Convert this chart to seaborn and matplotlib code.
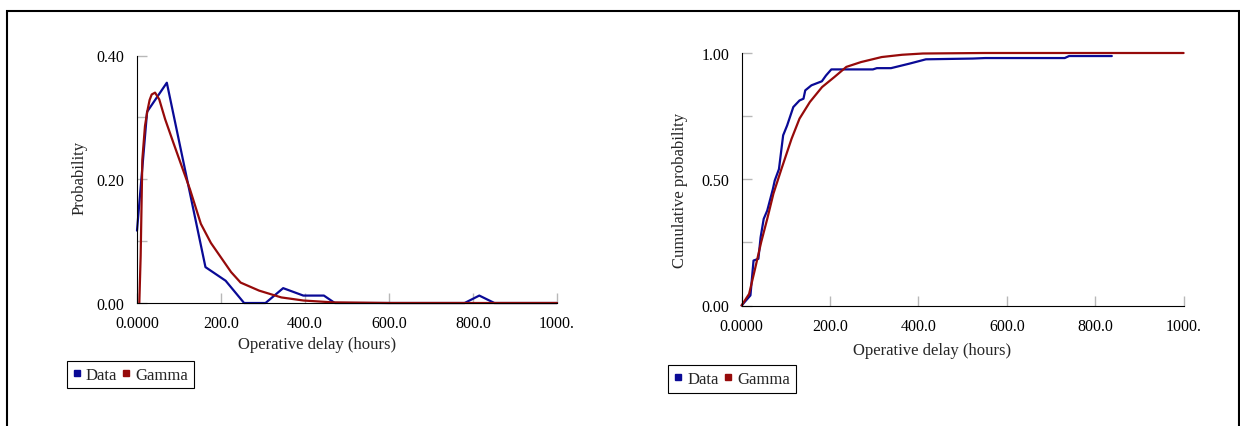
import numpy as np
import pandas as pd
import matplotlib
matplotlib.use("Agg")
import matplotlib.pyplot as plt
from matplotlib.lines import Line2D
from matplotlib.ticker import FixedLocator
import seaborn as sns

# Probability per delay class (observed vs fitted gamma)
pdf_data_x = [0, 24, 71, 163, 211, 255, 306, 348, 396, 445, 471, 780, 815, 851, 1000]
pdf_data_y = [0.117, 0.309, 0.356, 0.058, 0.036, 0.0, 0.0, 0.024, 0.012, 0.012, 0.0, 0.0, 0.012, 0.0, 0.0]

pdf_gamma_x = [5.5, 8.7, 12.7, 19, 24.6, 30, 35, 43, 53, 67, 86.6, 106.5, 126, 152, 176,
               202.6, 224, 246.7, 290.8, 343.7, 396.6, 467, 600, 800, 1000]
pdf_gamma_y = [0.0, 0.076, 0.232, 0.286, 0.310, 0.328, 0.337, 0.340, 0.329, 0.297, 0.259,
               0.221, 0.184, 0.128, 0.097, 0.071, 0.050, 0.033, 0.020, 0.009, 0.004, 0.001,
               0.0, 0.0, 0.0]

# Cumulative probability (empirical vs fitted gamma)
cdf_data_x = [0, 20, 27, 38, 43, 50, 58, 70.6, 75, 84.5, 94, 103, 117, 131, 140, 144,
              158, 181.6, 191, 203, 232, 297, 306, 338, 380, 417, 523, 551, 731, 741, 837.6]
cdf_data_y = [0.0, 0.04, 0.178, 0.185, 0.27, 0.343, 0.376, 0.46, 0.495, 0.54, 0.674, 0.713,
              0.786, 0.812, 0.819, 0.852, 0.872, 0.888, 0.911, 0.935, 0.935, 0.935, 0.94,
              0.94, 0.958, 0.975, 0.978, 0.98, 0.98, 0.988, 0.988]

cdf_gamma_x = [0, 17, 30.4, 44.3, 58, 72, 90, 113, 131, 154.5, 182, 210, 237, 270,
               317, 363, 410, 550, 700, 850, 1000]
cdf_gamma_y = [0.0, 0.046, 0.145, 0.251, 0.343, 0.443, 0.54, 0.66, 0.74, 0.806, 0.865,
               0.905, 0.945, 0.964, 0.984, 0.993, 0.998, 1.0, 1.0, 1.0, 1.0]

x_ticks = [0, 200, 400, 600, 800, 1000]
x_tick_labels = ["0.0000", "200.0", "400.0", "600.0", "800.0", "1000."]
series_names = ["Data", "Gamma"]

BLUE = "#0a0a96"
RED = "#960a0a"
palette = {"Data": BLUE, "Gamma": RED}

sns.set_style("white")
plt.rcParams["font.family"] = ["Liberation Serif", "DejaVu Serif"]
plt.rcParams["axes.linewidth"] = 0.8

W, H = 1240, 427
fig = plt.figure(figsize=(W / 100, H / 100), dpi=100)


def frame(px_left, px_right, px_top, px_bottom):
    return [px_left / W, 1 - px_bottom / H, (px_right - px_left) / W, (px_bottom - px_top) / H]


def long_table(xa, ya, xb, yb):
    return pd.concat([
        pd.DataFrame({"x": xa, "y": ya, "series": series_names[0]}),
        pd.DataFrame({"x": xb, "y": yb, "series": series_names[1]}),
    ], ignore_index=True)


def style_axes(ax, ylim, major, minor_pos, ylabels):
    ax.set_xlim(0, 1000)
    ax.set_ylim(*ylim)
    sns.despine(ax=ax)
    for s in ("left", "bottom"):
        ax.spines[s].set_color("black")
    ax.xaxis.set_major_locator(FixedLocator(x_ticks))
    ax.set_xticklabels(x_tick_labels)
    ax.yaxis.set_major_locator(FixedLocator(major))
    ax.set_yticklabels(ylabels)
    ax.yaxis.set_minor_locator(FixedLocator(minor_pos))
    ax.tick_params(which="both", direction="in", length=7, width=1, color="#b8b8b8",
                   labelsize=11.5, labelcolor="black", bottom=True, left=True,
                   top=False, right=False)
    ax.tick_params(axis="y", pad=9)
    ax.tick_params(axis="x", pad=9)
    ax.set_xlabel("")
    ax.set_ylabel("")
    ax.grid(False)
    ax.set_facecolor("white")


def add_legend(ax, px_x, px_y):
    handles = [Line2D([], [], marker="s", linestyle="none", color=palette[n], markersize=5)
               for n in series_names]
    leg = ax.legend(handles, series_names, loc="upper left",
                    bbox_to_anchor=(px_x / W, 1 - px_y / H), bbox_transform=fig.transFigure,
                    ncol=2, frameon=True, fancybox=False, edgecolor="black",
                    handlelength=0.5, handletextpad=0.3, columnspacing=0.3,
                    borderpad=0.35, borderaxespad=0, fontsize=12)
    leg.get_frame().set_linewidth(0.8)
    leg.get_frame().set_alpha(1)


# Left panel: probability
ax1 = fig.add_axes(frame(137, 557, 56.5, 304))
pdf_df = long_table(pdf_data_x, pdf_data_y, pdf_gamma_x, pdf_gamma_y)
sns.lineplot(data=pdf_df, x="x", y="y", hue="series", palette=palette, sort=False,
             estimator=None, linewidth=1.6, legend=False, ax=ax1)
style_axes(ax1, (0, 0.4), [0.0, 0.2, 0.4], [0.1, 0.3], ["0.00", "0.20", "0.40"])
for ln in ax1.lines:
    ln.set_clip_on(False)
add_legend(ax1, 66.7, 361.7)

# Right panel: cumulative probability
ax2 = fig.add_axes(frame(741.6, 1183.6, 54, 306.5))
cdf_df = long_table(cdf_data_x, cdf_data_y, cdf_gamma_x, cdf_gamma_y)
sns.lineplot(data=cdf_df, x="x", y="y", hue="series", palette=palette, sort=False,
             estimator=None, linewidth=1.6, legend=False, ax=ax2)
style_axes(ax2, (0, 1.0), [0.0, 0.5, 1.0], [0.25, 0.75], ["0.00", "0.50", "1.00"])
for ln in ax2.lines:
    ln.set_clip_on(False)
add_legend(ax2, 668.3, 366)

# Axis titles
fig.text(317.5 / W, 1 - 345 / H, "Operative delay (hours)", ha="center", va="center", fontsize=12)
fig.text(932 / W, 1 - 351 / H, "Operative delay (hours)", ha="center", va="center", fontsize=12)
fig.text(79.5 / W, 1 - 178 / H, "Probability", ha="center", va="center", rotation=90, fontsize=12)
fig.text(680.4 / W, 1 - 190 / H, "Cumulative probability", ha="center", va="center",
         rotation=90, fontsize=12)

# Outer border (left, top, right)
lw = 1.5
fig.add_artist(Line2D([7 / W, 7 / W, 1238.5 / W, 1238.5 / W], [0, 1 - 12 / H, 1 - 12 / H, 0],
                      transform=fig.transFigure, color="black", lw=lw, solid_joinstyle="miter"))

fig.savefig("out.png", dpi=100, facecolor="white")
